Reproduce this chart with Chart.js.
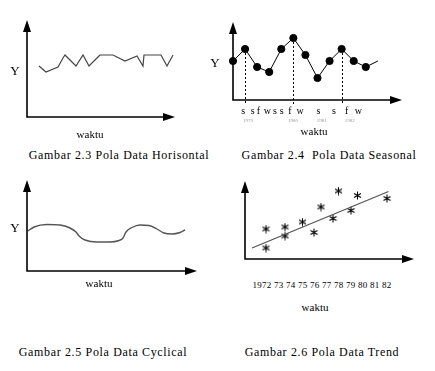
<!DOCTYPE html>
<html>
<head>
<meta charset="utf-8">
<script src="https://cdn.jsdelivr.net/npm/chart.js@4/dist/chart.umd.min.js"></script>
<style>
body { margin: 0; background: #fff; }
#page { position: relative; width: 435px; height: 371px; overflow: hidden; font-family: "Liberation Serif", "Times New Roman", serif; color: #000; }
canvas { position: absolute; }
.txt { position: absolute; white-space: nowrap; transform: translate(-50%, -50%); line-height: 1; }
.cap { font-size: 12px; letter-spacing: 0.65px; }
.wk { font-size: 11px; }
.yl { font-size: 13px; }
</style>
</head>
<body>
<div id="page">
  <canvas id="c1" width="200" height="125" style="left:0;top:0"></canvas>
  <canvas id="c2" width="235" height="125" style="left:200px;top:0"></canvas>
  <canvas id="c3" width="210" height="110" style="left:0;top:170px"></canvas>
  <canvas id="c4" width="220" height="100" style="left:215px;top:170px"></canvas>

  <div class="txt yl" style="left:15px;top:70px">Y</div>
  <div class="txt wk" style="left:90px;top:134px">waktu</div>
  <div class="txt cap" style="left:119px;top:155px">Gambar 2.3 Pola Data Horisontal</div>

  <div class="txt yl" style="left:215px;top:62px">Y</div>
  <div class="txt wk" style="left:314px;top:131px">waktu</div>
  <div class="txt cap" style="left:329px;top:155px">Gambar 2.4&nbsp; Pola Data Seasonal</div>

  <div class="txt yl" style="left:15px;top:227px">Y</div>
  <div class="txt wk" style="left:99px;top:283px">waktu</div>
  <div class="txt cap" style="left:103px;top:352px">Gambar 2.5 Pola Data Cyclical</div>

  <div class="txt" id="years" style="left:322px;top:285px;font-size:9px;letter-spacing:0.25px"></div>
  <div class="txt wk" style="left:315px;top:307px">waktu</div>
  <div class="txt cap" style="left:322px;top:352px">Gambar 2.6 Pola Data Trend</div>
</div>

<script>
// Gambar 2.3 - horisontal
const horX = [12, 19, 31, 36, 38, 49, 56, 62, 72, 73, 86, 98, 110, 116, 117, 134, 140, 146];
const horY = [51, 45, 50, 59, 62, 51, 62, 51, 61, 62, 62, 56, 61, 51, 62, 62, 51, 62];

// Gambar 2.4 - seasonal
const seaY = [39, 51, 33, 28, 51, 62, 45, 22, 39, 51, 39, 33, 39];
const seaMarked = [1, 5, 9];
const seaLabels = ['s', 's', 'f', 'w', 's', 's', 'f', 'w', 's', 's', 'f', 'w'];
const seaLabelPos = [0.85, 1.63, 2.1, 2.84, 3.48, 4.03, 4.72, 5.55, 7.07, 8.37, 9.42, 10.38];
const seaYears = ['1979', '1980', '1981', '1982'];
const seaYearPos = [1.24, 4.97, 7.35, 9.67];

// Gambar 2.5 - cyclical
const cycX = [1, 7, 20, 33, 43, 49, 52, 58, 70, 83, 92, 96, 99, 105, 113, 122, 130, 137, 145, 153, 158];
const cycY = [40, 44, 46.5, 46, 43, 39, 35, 31, 29, 29, 30.5, 33, 39, 43.5, 46, 45.5, 42, 38, 37, 38.5, 41];

// Gambar 2.6 - trend
const trendYears = ['1972', '73', '74', '75', '76', '77', '78', '79', '80', '81', '82'];
const starX = [21, 21, 40, 40, 57.5, 69, 76, 88, 93.5, 106, 112.5, 142];
const starY = [30, 11, 32, 23, 37, 26.5, 52, 40.5, 68, 48.5, 63.5, 60.5];
const trendX = [7, 143.5];
const trendY = [11, 67.5];

document.getElementById('years').textContent = trendYears.join(' ');

// sumbu dengan panah
const axisArrows = {
    id: 'axisArrows',
    afterDraw(chart) {
        const a = chart.chartArea;
        const c = chart.ctx;
        c.save();
        c.strokeStyle = '#000';
        c.fillStyle = '#000';
        c.lineWidth = 1.6;
        c.beginPath();
        c.moveTo(a.left, a.top + 8);
        c.lineTo(a.left, a.bottom);
        c.lineTo(a.right - 8, a.bottom);
        c.stroke();
        c.beginPath();
        c.moveTo(a.left, a.top);
        c.lineTo(a.left - 4, a.top + 12);
        c.lineTo(a.left + 4, a.top + 12);
        c.closePath();
        c.fill();
        c.beginPath();
        c.moveTo(a.right, a.bottom);
        c.lineTo(a.right - 12, a.bottom - 4);
        c.lineTo(a.right - 12, a.bottom + 4);
        c.closePath();
        c.fill();
        c.restore();
    }
};

// garis putus-putus & label musim
const seasonMarks = {
    id: 'seasonMarks',
    beforeDatasetsDraw(chart) {
        const meta = chart.getDatasetMeta(0);
        const a = chart.chartArea;
        const c = chart.ctx;
        c.save();
        c.strokeStyle = '#000';
        c.lineWidth = 1;
        c.setLineDash([2, 2]);
        seaMarked.forEach(i => {
            const p = meta.data[i];
            c.beginPath();
            c.moveTo(Math.round(p.x) + 0.5, p.y);
            c.lineTo(Math.round(p.x) + 0.5, a.bottom + 4);
            c.stroke();
        });
        c.restore();
    },
    afterDraw(chart) {
        const xs = chart.scales.x;
        const c = chart.ctx;
        c.save();
        c.textAlign = 'center';
        c.textBaseline = 'middle';
        c.fillStyle = '#000';
        c.font = '10px "Liberation Serif", serif';
        seaLabels.forEach((t, i) => c.fillText(t, xs.getPixelForValue(seaLabelPos[i]), 111));
        c.fillStyle = '#999';
        c.font = '5px "Liberation Serif", serif';
        seaYears.forEach((t, i) => c.fillText(t, xs.getPixelForValue(seaYearPos[i]), 121));
        c.restore();
    }
};

function pts(xs, ys) {
    return xs.map((x, i) => ({ x: x, y: ys[i] }));
}

function baseOptions(pad, xMax, yMax) {
    return {
        responsive: false,
        animation: false,
        events: [],
        layout: { padding: pad },
        plugins: { legend: { display: false }, tooltip: { enabled: false } },
        scales: {
            x: { type: 'linear', display: false, min: 0, max: xMax },
            y: { type: 'linear', display: false, min: 0, max: yMax }
        }
    };
}

new Chart(document.getElementById('c1'), {
    type: 'scatter',
    data: {
        datasets: [{
            data: pts(horX, horY),
            showLine: true,
            borderColor: '#444',
            borderWidth: 1.2,
            pointRadius: 0,
            clip: false
        }]
    },
    options: baseOptions({ left: 27, top: 20, right: 25, bottom: 8 }, 148, 97),
    plugins: [axisArrows]
});

new Chart(document.getElementById('c2'), {
    type: 'scatter',
    data: {
        datasets: [{
            data: seaY.map((y, i) => ({ x: i, y: y })),
            showLine: true,
            borderColor: '#000',
            borderWidth: 1,
            pointRadius: seaY.map((y, i) => i === seaY.length - 1 ? 0 : 3.6),
            pointBackgroundColor: '#000',
            pointBorderColor: '#000',
            clip: false
        }]
    },
    options: baseOptions({ left: 33, top: 22, right: 33, bottom: 25 }, 14, 78),
    plugins: [axisArrows, seasonMarks]
});

new Chart(document.getElementById('c3'), {
    type: 'scatter',
    data: {
        datasets: [{
            data: pts(cycX, cycY),
            showLine: true,
            borderColor: '#555',
            borderWidth: 1.4,
            pointRadius: 0,
            cubicInterpolationMode: 'monotone',
            clip: false
        }]
    },
    options: baseOptions({ left: 27, top: 10, right: 13, bottom: 9 }, 170, 91),
    plugins: [axisArrows]
});

// bintang (asterisk) sebagai titik
const star = document.createElement('canvas');
star.width = 9;
star.height = 9;
(function () {
    const s = star.getContext('2d');
    s.strokeStyle = '#000';
    s.lineWidth = 1.1;
    [90, 30, 150].forEach(deg => {
        const r = deg * Math.PI / 180;
        s.beginPath();
        s.moveTo(4.5 + Math.cos(r) * 4, 4.5 - Math.sin(r) * 4);
        s.lineTo(4.5 - Math.cos(r) * 4, 4.5 + Math.sin(r) * 4);
        s.stroke();
    });
})();

new Chart(document.getElementById('c4'), {
    type: 'scatter',
    data: {
        datasets: [{
            data: pts(trendX, trendY),
            showLine: true,
            borderColor: '#555',
            borderWidth: 1.3,
            pointRadius: 0,
            clip: false
        }, {
            data: pts(starX, starY),
            pointStyle: star,
            pointRadius: 4.5,
            clip: false
        }]
    },
    options: baseOptions({ left: 30, top: 11, right: 21, bottom: 11 }, 169, 78),
    plugins: [axisArrows]
});
</script>
</body>
</html>
